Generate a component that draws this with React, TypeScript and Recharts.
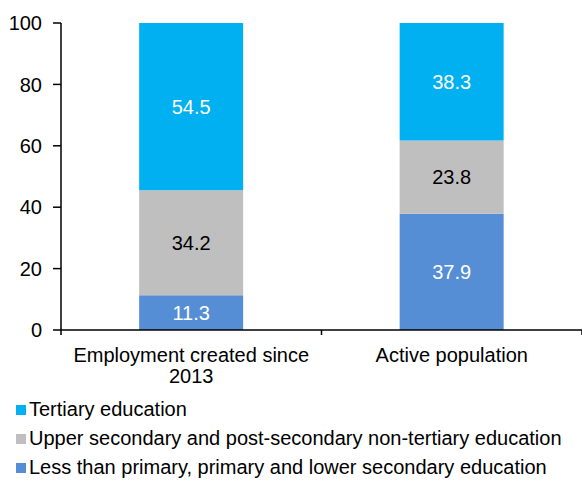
import React from 'react';
import { BarChart, Bar, XAxis, YAxis, LabelList, Legend } from 'recharts';

const categories = ['Employment created since 2013', 'Active population'];
const categoryLines = [['Employment created since', '2013'], ['Active population']];
const lowerSecondary = [11.3, 37.9];
const upperSecondary = [34.2, 23.8];
const tertiary = [54.5, 38.3];
const yTicks = [0, 20, 40, 60, 80, 100];

const seriesLower = 'Less than primary, primary and lower secondary education';
const seriesUpper = 'Upper secondary and post-secondary non-tertiary education';
const seriesTertiary = 'Tertiary education';
const legendOrder = [seriesTertiary, seriesUpper, seriesLower];

const COLORS = { lower: '#558ED5', upper: '#BFBFBF', tertiary: '#00B0F0' };
const FONT = '"Liberation Sans", Arial, sans-serif';

const data = categories.map((c, i) => ({
  name: c,
  lower: lowerSecondary[i],
  upper: upperSecondary[i],
  tertiary: tertiary[i],
}));

const XTick = (props: any) => {
  const { x, y, payload, width, visibleTicksCount, index } = props;
  const count = visibleTicksCount || categories.length;
  const band = (width || 521) / count;
  const lines = categoryLines[payload.index ?? index] || [String(payload.value)];
  return (
    <g>
      <line x1={x - band / 2} x2={x - band / 2} y1={y} y2={y + 5} stroke="#000" strokeWidth={1.5} />
      {index === count - 1 && (
        <line x1={x + band / 2} x2={x + band / 2} y1={y} y2={y + 5} stroke="#000" strokeWidth={1.5} />
      )}
      {lines.map((ln: string, i: number) => (
        <text key={i} x={x} y={y + 32 + i * 21} textAnchor="middle" fontSize={20} fill="#000" fontFamily={FONT}>
          {ln}
        </text>
      ))}
    </g>
  );
};

const renderLegend = (props: any) => {
  const items = props.payload || [];
  const ordered = legendOrder
    .map((n) => items.find((p: any) => p.value === n))
    .filter(Boolean);
  return (
    <div style={{ height: 91, boxSizing: 'border-box', paddingTop: 5, fontFamily: FONT }}>
      {ordered.map((p: any, i: number) => (
        <div key={i} style={{ height: 29, display: 'flex', alignItems: 'center' }}>
          <span style={{ display: 'inline-block', width: 10, height: 10, marginLeft: 16, marginRight: 3, background: p.color }} />
          <span style={{ fontSize: 20, color: '#000', whiteSpace: 'nowrap' }}>{p.value}</span>
        </div>
      ))}
    </div>
  );
};

export default function App() {
  return (
    <div style={{ position: 'absolute', left: 0, top: 0, background: '#fff' }}>
      <BarChart
        width={582}
        height={481}
        data={data}
        margin={{ top: 23, right: 0, left: 0, bottom: 0 }}
        barCategoryGap="30%"
        style={{ fontFamily: FONT }}
      >
        <XAxis
          dataKey="name"
          height={60}
          tickSize={0}
          tickMargin={0}
          interval={0}
          axisLine={{ stroke: '#000', strokeWidth: 1.5 }}
          tickLine={false}
          tick={<XTick />}
        />
        <YAxis
          width={61}
          domain={[0, 100]}
          ticks={yTicks}
          interval={0}
          tickSize={8}
          tickMargin={11}
          axisLine={{ stroke: '#000', strokeWidth: 1.5 }}
          tickLine={{ stroke: '#000', strokeWidth: 1.5 }}
          tick={{ fontSize: 20, fill: '#000', fontFamily: FONT }}
        />
        <Legend
          verticalAlign="bottom"
          align="left"
          content={renderLegend}
          wrapperStyle={{ left: 0, width: 582 }}
        />
        <Bar dataKey="lower" name={seriesLower} stackId="a" fill={COLORS.lower} isAnimationActive={false}>
          <LabelList dataKey="lower" position="center" fill="#fff" fontSize={20} fontFamily={FONT} />
        </Bar>
        <Bar dataKey="upper" name={seriesUpper} stackId="a" fill={COLORS.upper} isAnimationActive={false}>
          <LabelList dataKey="upper" position="center" fill="#000" fontSize={20} fontFamily={FONT} />
        </Bar>
        <Bar dataKey="tertiary" name={seriesTertiary} stackId="a" fill={COLORS.tertiary} isAnimationActive={false}>
          <LabelList dataKey="tertiary" position="center" fill="#fff" fontSize={20} fontFamily={FONT} />
        </Bar>
      </BarChart>
    </div>
  );
}
